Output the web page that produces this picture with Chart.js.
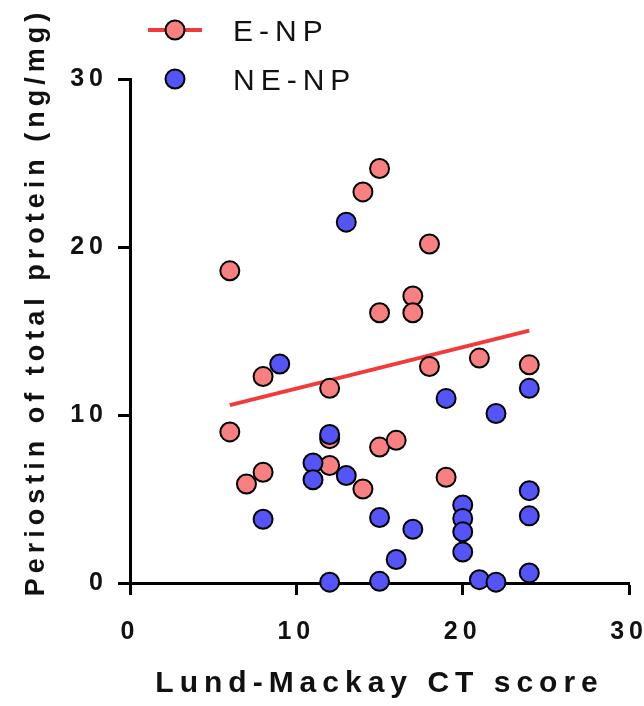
<!DOCTYPE html>
<html>
<head>
<meta charset="utf-8">
<script src="https://cdn.jsdelivr.net/npm/chart.js@4.4.1/dist/chart.umd.min.js"></script>
<style>
  html, body { margin: 0; padding: 0; background: #fff; overflow: hidden; }
  #wrap { position: relative; width: 670px; height: 706px; }
</style>
</head>
<body>
<div id="wrap"><canvas id="chart"></canvas></div>
<script>
// E-NP patients: Lund-Mackay CT score and periostin (ng/mg).
const ENP_SCORE = [6, 6, 8, 7, 8, 12, 12, 12, 15, 14, 18, 17, 17, 15, 18, 21, 24, 15, 16, 14, 19];
const ENP_PERIOSTIN = [18.6, 9.0, 12.3, 5.9, 6.6, 8.6, 7.0, 11.6, 24.7, 23.3, 20.2, 17.1, 16.1, 16.1, 12.9, 13.4, 13.0, 8.1, 8.5, 5.6, 6.3];

// NE-NP patients.
const NENP_SCORE = [9, 13, 19, 22, 24, 12, 11, 11, 13, 8, 12, 15, 17, 16, 15, 20, 20, 20, 20, 21, 22, 24, 24, 24];
const NENP_PERIOSTIN = [13.05, 21.5, 11.0, 10.1, 11.6, 8.85, 7.15, 6.15, 6.4, 3.8, 0.05, 3.9, 3.2, 1.4, 0.1, 4.65, 3.85, 3.05, 1.85, 0.2, 0.05, 5.5, 4.0, 0.6];

// Regression line drawn for E-NP.
const FIT_SCORE = [6, 24];
const FIT_PERIOSTIN = [10.6, 15.04];

const X_TICKS = [0, 10, 20, 30];
const Y_TICKS = [0, 10, 20, 30];

const X_TITLE = 'Lund-Mackay CT score';
const Y_TITLE = 'Periostin of total protein (ng/mg)';

const RED_FILL = 'rgb(248, 128, 128)';
const BLUE_FILL = 'rgb(84, 84, 248)';
const LINE_RED = 'rgb(242, 58, 58)';
const FONT = '"Liberation Sans", Arial, sans-serif';

function toPoints(xs, ys) {
    return xs.map(function(x, i) { return {x: x, y: ys[i]}; });
}

// Draws the axis titles and the legend, and sets the wide letter spacing
// the original figure uses for all of its text.
const figureText = {
    id: 'figureText',
    beforeUpdate(chart) { chart.ctx.letterSpacing = '5px'; },
    beforeDraw(chart) { chart.ctx.letterSpacing = '5px'; },
    afterDraw(chart) {
        const ctx = chart.ctx;
        const area = chart.chartArea;
        ctx.save();
        ctx.fillStyle = '#111';

        ctx.letterSpacing = '6px';
        ctx.font = 'bold 30px ' + FONT;
        ctx.textAlign = 'center';
        ctx.textBaseline = 'alphabetic';
        ctx.fillText(X_TITLE, (area.left + area.right) / 2, 692);

        ctx.letterSpacing = '5px';
        ctx.font = 'bold 27px ' + FONT;
        ctx.save();
        ctx.translate(44, 302);
        ctx.rotate(-Math.PI / 2);
        ctx.fillText(Y_TITLE, 0, 0);
        ctx.restore();

        // Legend
        const items = [
            {label: chart.data.datasets[1].label, fill: RED_FILL, line: true, y: 30},
            {label: chart.data.datasets[2].label, fill: BLUE_FILL, line: false, y: 79},
        ];
        items.forEach(function(item) {
            if (item.line) {
                ctx.strokeStyle = LINE_RED;
                ctx.lineWidth = 4;
                ctx.beginPath();
                ctx.moveTo(148, item.y);
                ctx.lineTo(202, item.y);
                ctx.stroke();
            }
            ctx.beginPath();
            ctx.arc(175, item.y, 9.5, 0, Math.PI * 2);
            ctx.fillStyle = item.fill;
            ctx.fill();
            ctx.lineWidth = 2;
            ctx.strokeStyle = '#000';
            ctx.stroke();

            ctx.fillStyle = '#111';
            ctx.letterSpacing = '6px';
            ctx.font = '30px ' + FONT;
            ctx.textAlign = 'left';
            ctx.fillText(item.label, 233, item.y + 11);
        });
        ctx.restore();
    },
};

function axisOptions(ticks, padding) {
    return {
        type: 'linear',
        min: ticks[0],
        max: ticks[ticks.length - 1],
        afterBuildTicks: function(scale) {
            scale.ticks = ticks.map(function(v) { return {value: v}; });
        },
        border: {display: true, color: '#000', width: 3},
        grid: {
            drawOnChartArea: false,
            drawTicks: true,
            tickLength: 12,
            tickWidth: 3,
            tickColor: '#000',
        },
        ticks: {
            color: '#111',
            padding: padding,
            maxRotation: 0,
            font: {family: FONT, size: 25, weight: 'bold'},
        },
    };
}

const xAxis = axisOptions(X_TICKS, 22);
xAxis.afterFit = function(scale) { scale.height = 123; };
const yAxis = axisOptions(Y_TICKS, 10);
yAxis.afterFit = function(scale) { scale.width = 130; };

new Chart(document.getElementById('chart'), {
    type: 'scatter',
    data: {
        datasets: [{
            label: 'E-NP fit',
            data: toPoints(FIT_SCORE, FIT_PERIOSTIN),
            showLine: true,
            borderColor: LINE_RED,
            borderWidth: 4,
            pointRadius: 0,
            clip: false,
            order: 2,
        }, {
            label: 'E-NP',
            data: toPoints(ENP_SCORE, ENP_PERIOSTIN),
            backgroundColor: RED_FILL,
            borderColor: '#000',
            borderWidth: 2,
            pointRadius: 9.5,
            pointHoverRadius: 9.5,
            clip: false,
            order: 1,
        }, {
            label: 'NE-NP',
            data: toPoints(NENP_SCORE, NENP_PERIOSTIN),
            backgroundColor: BLUE_FILL,
            borderColor: '#000',
            borderWidth: 2,
            pointRadius: 9.5,
            pointHoverRadius: 9.5,
            clip: false,
            order: 0,
        }]
    },
    options: {
        responsive: true,
        maintainAspectRatio: false,
        animation: false,
        layout: {padding: {top: 79.5, right: 40, bottom: 0, left: 0}},
        scales: {x: xAxis, y: yAxis},
        plugins: {
            legend: {display: false},
            tooltip: {enabled: false},
        },
    },
    plugins: [figureText],
});
</script>
</body>
</html>
